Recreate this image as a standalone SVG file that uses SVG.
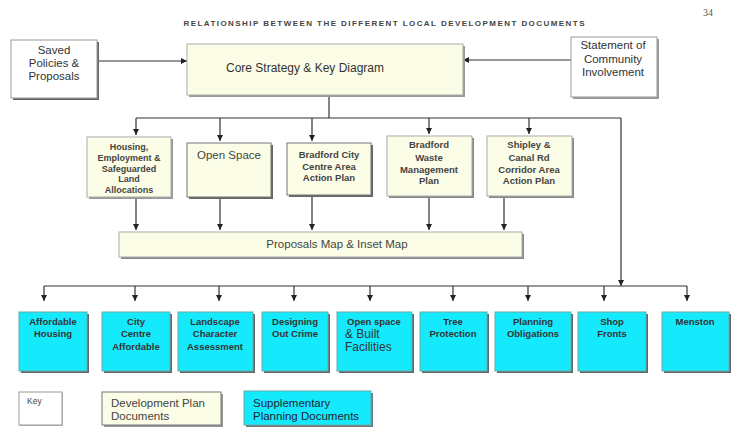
<svg xmlns="http://www.w3.org/2000/svg" width="749" height="441" viewBox="0 0 749 441">
<defs>
<marker id="arr" markerWidth="6" markerHeight="6" refX="6" refY="3" orient="auto" markerUnits="userSpaceOnUse">
<path d="M0,0 L6,3 L0,6 z" fill="#222"/>
</marker>
<style>
text{font-family:"Liberation Sans",Arial,sans-serif;fill:#333}
.sh{fill:#666}
.w{fill:#fff;stroke:#999;stroke-width:1}
.c{fill:#fbfde6;stroke:#aaa;stroke-width:1}
.cd{fill:#fbfde6;stroke:#777;stroke-width:1}
.b{fill:#14eafc;stroke:#6aa;stroke-width:1}
.t11{font-size:11.5px;text-anchor:middle}
.bm{font-size:9.5px;font-weight:bold;text-anchor:middle;fill:#444}
.bb{font-size:9.5px;font-weight:bold;text-anchor:middle;fill:#333}
.lk{stroke:#333;stroke-width:1.2;fill:none}
.ar{stroke:#333;stroke-width:1.2;fill:none;marker-end:url(#arr)}
</style>
</defs>
<rect width="749" height="441" fill="#fff"/>
<text x="384" y="26" font-size="8" font-weight="bold" text-anchor="middle" textLength="401" lengthAdjust="spacing" style="fill:#444">RELATIONSHIP BETWEEN THE DIFFERENT LOCAL DEVELOPMENT DOCUMENTS</text>
<text x="708" y="16" font-size="10" style="font-family:'Liberation Serif',serif;fill:#555" text-anchor="middle">34</text>

<g id="connectors">
<line class="ar" x1="97" y1="61" x2="187" y2="61"/>
<line class="ar" x1="571" y1="60" x2="463" y2="60"/>
<line class="lk" x1="329" y1="95" x2="329" y2="118"/>
<line class="lk" x1="136" y1="118" x2="621" y2="118"/>
<line class="ar" x1="136" y1="118" x2="136" y2="135"/>
<line class="ar" x1="220" y1="118" x2="220" y2="141"/>
<line class="ar" x1="312" y1="118" x2="312" y2="141"/>
<line class="ar" x1="429" y1="118" x2="429" y2="134"/>
<line class="ar" x1="529" y1="118" x2="529" y2="134"/>
<line class="ar" x1="621" y1="118" x2="621" y2="286"/>
<line class="ar" x1="136" y1="198" x2="136" y2="230"/>
<line class="ar" x1="220" y1="198" x2="220" y2="230"/>
<line class="ar" x1="312" y1="196" x2="312" y2="230"/>
<line class="ar" x1="429" y1="197" x2="429" y2="230"/>
<line class="ar" x1="504" y1="197" x2="504" y2="230"/>
<line class="lk" x1="44" y1="286" x2="687" y2="286"/>
<line class="ar" x1="44" y1="286" x2="44" y2="301"/>
<line class="ar" x1="135" y1="286" x2="135" y2="301"/>
<line class="ar" x1="219" y1="286" x2="219" y2="301"/>
<line class="ar" x1="294" y1="286" x2="294" y2="301"/>
<line class="ar" x1="370" y1="286" x2="370" y2="301"/>
<line class="ar" x1="453" y1="286" x2="453" y2="301"/>
<line class="ar" x1="528" y1="286" x2="528" y2="301"/>
<line class="ar" x1="604" y1="286" x2="604" y2="301"/>
<line class="ar" x1="687" y1="286" x2="687" y2="301"/>
</g>

<g id="saved">
<rect class="sh" x="13" y="42" width="86" height="58"/>
<rect class="w" x="11" y="40" width="86" height="58"/>
<text class="t11" x="54" y="54">Saved</text>
<text class="t11" x="54" y="67">Policies &amp;</text>
<text class="t11" x="54" y="80">Proposals</text>
</g>
<g id="core">
<rect class="sh" x="189" y="46" width="276" height="51" style="fill:#999"/>
<rect class="c" x="187" y="44" width="276" height="51"/>
<text x="305" y="72" font-size="12" text-anchor="middle">Core Strategy &amp; Key Diagram</text>
</g>
<g id="statement">
<rect class="sh" x="573" y="39" width="86" height="60" style="fill:#999"/>
<rect class="w" x="571" y="37" width="86" height="60"/>
<text class="t11" x="613" y="49">Statement of</text>
<text class="t11" x="613" y="63">Community</text>
<text class="t11" x="613" y="76">Involvement</text>
</g>

<g id="housing">
<rect class="sh" x="89" y="139" width="84" height="60" style="fill:#999"/>
<rect class="c" x="87" y="137" width="84" height="60"/>
<text class="bm" x="129" y="150" style="font-size:9px">Housing,</text>
<text class="bm" x="129" y="161" style="font-size:9px">Employment &amp;</text>
<text class="bm" x="129" y="171.5" style="font-size:9px">Safeguarded</text>
<text class="bm" x="129" y="182" style="font-size:9px">Land</text>
<text class="bm" x="129" y="192.5" style="font-size:9px">Allocations</text>
</g>
<g id="openspace">
<rect class="sh" x="189" y="145" width="84" height="54"/>
<rect class="cd" x="187" y="143" width="84" height="54"/>
<text class="t11" x="229" y="159" style="font-size:11.5px;fill:#444">Open Space</text>
</g>
<g id="bradfordcity">
<rect class="sh" x="289" y="145" width="84" height="52"/>
<rect class="cd" x="287" y="143" width="84" height="52"/>
<text class="bm" x="329" y="158">Bradford City</text>
<text class="bm" x="329" y="170">Centre Area</text>
<text class="bm" x="329" y="181">Action Plan</text>
</g>
<g id="waste">
<rect class="sh" x="389" y="138" width="85" height="60" style="fill:#888"/>
<rect class="c" x="387" y="136" width="85" height="60"/>
<text class="bm" x="429" y="148">Bradford</text>
<text class="bm" x="429" y="161">Waste</text>
<text class="bm" x="429" y="173">Management</text>
<text class="bm" x="429" y="184">Plan</text>
</g>
<g id="shipley">
<rect class="sh" x="489" y="138" width="85" height="60" style="fill:#888"/>
<rect class="c" x="487" y="136" width="85" height="60"/>
<text class="bm" x="529" y="148">Shipley &amp;</text>
<text class="bm" x="529" y="161">Canal Rd</text>
<text class="bm" x="529" y="173">Corridor Area</text>
<text class="bm" x="529" y="184">Action Plan</text>
</g>
<g id="proposals">
<rect class="sh" x="121" y="234" width="403" height="25" style="fill:#888"/>
<rect class="c" x="119" y="232" width="403" height="25"/>
<text x="337" y="248" font-size="11.5" text-anchor="middle" style="fill:#444">Proposals Map &amp; Inset Map</text>
</g>

<g id="affordable">
<rect class="sh" x="21" y="314" width="68" height="59"/>
<rect class="b" x="19" y="312" width="68" height="59"/>
<text class="bb" x="53" y="325">Affordable</text>
<text class="bb" x="53" y="337">Housing</text>
</g>
<g id="citycentre">
<rect class="sh" x="104" y="314" width="68" height="59"/>
<rect class="b" x="102" y="312" width="68" height="59"/>
<text class="bb" x="136" y="325">City</text>
<text class="bb" x="136" y="337">Centre</text>
<text class="bb" x="136" y="350">Affordable</text>
</g>
<g id="landscape">
<rect class="sh" x="180" y="314" width="75" height="59"/>
<rect class="b" x="178" y="312" width="75" height="59"/>
<text class="bb" x="215" y="325">Landscape</text>
<text class="bb" x="215" y="337">Character</text>
<text class="bb" x="215" y="350">Assessment</text>
</g>
<g id="designing">
<rect class="sh" x="264" y="314" width="66" height="59"/>
<rect class="b" x="262" y="312" width="66" height="59"/>
<text class="bb" x="295" y="325">Designing</text>
<text class="bb" x="295" y="337">Out Crime</text>
</g>
<g id="openbuilt">
<rect class="sh" x="339" y="314" width="75" height="59"/>
<rect class="b" x="337" y="312" width="75" height="59"/>
<text class="bb" x="347" y="325" style="text-anchor:start">Open space</text>
<text x="345" y="338" font-size="12" style="fill:#333">&amp; Built</text>
<text x="345" y="351" font-size="12" style="fill:#333">Facilities</text>
</g>
<g id="tree">
<rect class="sh" x="422" y="314" width="67" height="59"/>
<rect class="b" x="420" y="312" width="67" height="59"/>
<text class="bb" x="453" y="325">Tree</text>
<text class="bb" x="453" y="337">Protection</text>
</g>
<g id="planning">
<rect class="sh" x="497" y="314" width="76" height="59"/>
<rect class="b" x="495" y="312" width="76" height="59"/>
<text class="bb" x="533" y="325">Planning</text>
<text class="bb" x="533" y="337">Obligations</text>
</g>
<g id="shop">
<rect class="sh" x="580" y="314" width="68" height="59"/>
<rect class="b" x="578" y="312" width="68" height="59"/>
<text class="bb" x="612" y="325">Shop</text>
<text class="bb" x="612" y="337">Fronts</text>
</g>
<g id="menston">
<rect class="sh" x="664" y="314" width="67" height="59"/>
<rect class="b" x="662" y="312" width="67" height="59"/>
<text class="bb" x="695" y="325">Menston</text>
</g>

<g id="key">
<rect x="20" y="393" width="43" height="33" fill="#bbb"/>
<rect class="w" x="19" y="392" width="43" height="33"/>
<text x="27" y="404" font-size="8.5" style="fill:#444">Key</text>
</g>
<g id="key-dev">
<rect x="104" y="394" width="119" height="33" fill="#999"/>
<rect class="cd" x="102" y="392" width="119" height="33"/>
<text x="111" y="407" font-size="11.5" style="fill:#444">Development Plan</text>
<text x="111" y="420" font-size="11.5" style="fill:#444">Documents</text>
</g>
<g id="key-spd">
<rect x="246" y="393" width="127" height="34" fill="#777"/>
<rect class="b" x="244" y="391" width="127" height="34"/>
<text x="253" y="407" font-size="11.5" style="fill:#223">Supplementary</text>
<text x="253" y="420" font-size="11.5" style="fill:#223">Planning Documents</text>
</g>
</svg>
